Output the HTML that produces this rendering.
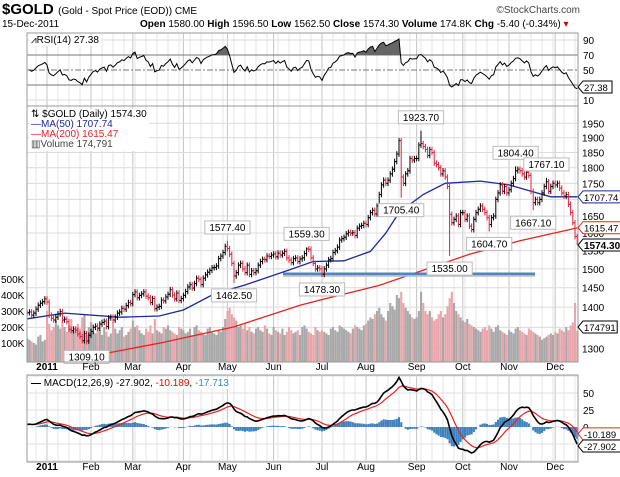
<!DOCTYPE html>
<html><head><meta charset="utf-8"><style>
body{margin:0;background:#fff;}
svg{display:block;font-family:"Liberation Sans",sans-serif;}
</style></head><body>
<svg id="c" width="620" height="477" xmlns="http://www.w3.org/2000/svg"></svg>
<script>
// ---- data ----
const pre=[1386,1388,1380,1385,1395,1405,1410,1414,1421];
const jan=[1413,1380,1372,1368,1375,1383,1389,1368,1370,1364,1345,1342,1346,1343,1334,1328,1318,1335,1317,1331];
const feb=[1340,1350,1353,1348,1358,1362,1365,1352,1373,1375,1368,1375,1385,1388,1397,1395,1404,1412,1409];
const mar=[1432,1439,1424,1430,1434,1439,1428,1424,1412,1422,1396,1400,1402,1418,1416,1426,1433,1445,1431,1421,1436,1417,1422];
const apr=[1430,1440,1452,1458,1449,1461,1475,1472,1458,1475,1484,1491,1496,1503,1504,1508,1528,1535,1545,1562];
const may=[1556,1540,1515,1481,1490,1510,1515,1500,1490,1510,1485,1495,1490,1495,1510,1520,1526,1525,1535,1534,1538];
const jun=[1541,1533,1543,1538,1543,1548,1530,1524,1517,1528,1530,1520,1527,1530,1542,1555,1554,1530,1515,1500,1503,1500];
const jul=[1485,1500,1510,1525,1528,1545,1550,1560,1580,1584,1588,1598,1602,1600,1601,1593,1614,1620,1622,1628];
const aug=[1625,1645,1660,1667,1656,1680,1715,1745,1760,1750,1760,1780,1795,1820,1845,1890,1770,1750,1780,1790,1830,1825,1830];
const sep=[1830,1875,1880,1870,1860,1840,1860,1850,1815,1810,1800,1780,1790,1770,1740,1655,1630,1640,1650,1625,1660];
const oct=[1660,1640,1650,1620,1610,1640,1660,1670,1680,1670,1660,1645,1625,1645,1650,1700,1720,1745,1725,1740,1720];
const nov=[1730,1750,1765,1790,1795,1790,1780,1770,1785,1775,1725,1690,1700,1690,1700,1720,1740,1755,1725,1740,1750];
const dec=[1745,1750,1735,1720,1710,1715,1685,1660,1630,1590,1574.3];
const closes=[].concat(pre,jan,feb,mar,apr,may,jun,jul,aug,sep,oct,nov,dec);
const volumes=[130,120,110,100,90,140,150,110,120,
300,220,180,200,240,210,190,230,200,170,210,250,180,200,220,190,260,280,150,200,
230,170,160,190,180,150,200,170,140,160,230,190,160,180,200,140,150,170,190,
240,200,210,180,160,150,190,170,210,160,250,180,170,160,200,190,210,180,170,160,150,200,190,
180,160,170,190,150,200,210,180,170,160,150,190,200,170,160,150,180,170,200,250,
300,320,280,260,240,200,210,190,220,180,200,170,160,190,200,180,170,210,190,160,150,
200,180,170,160,190,150,170,200,180,160,170,180,150,200,210,190,170,160,150,200,180,170,
180,170,160,150,190,200,180,170,210,200,190,180,170,160,190,210,200,190,180,210,
220,240,260,250,280,300,320,280,260,240,300,350,330,310,400,380,420,350,320,300,280,260,250,
260,300,420,350,300,280,300,260,240,250,280,300,260,280,330,380,420,350,300,280,260,
240,230,250,220,210,200,190,180,170,190,200,180,210,190,170,200,210,180,170,160,150,
180,170,160,190,200,180,170,160,150,190,180,170,160,150,140,120,130,140,150,160,150,
170,160,190,180,170,200,180,210,230,350,175];
const ma50Idx=[0,17,42,60,71,85,99,119,130,144,156,163,169,180,190,206,219,229,238,250];
const ma50Val=[1371,1385,1375,1378,1393,1434,1457,1497,1520,1522,1548,1600,1660,1715,1750,1757,1745,1725,1708,1708];
const ma200Idx=[19,60,94,124,133,160,176,201,224,250];
const ma200Val=[1272,1312,1351,1405,1418,1456,1488,1540,1578,1615];
const annIdx=[27,91,94,127,134,170,179,192,210,222,230,236];
const annVal=[1309.10,1577.40,1462.50,1559.30,1478.30,1705.40,1923.70,1535.00,1604.70,1804.40,1667.10,1767.10];
const annHigh=[0,1,0,1,0,0,1,0,0,1,0,1];
const priceTicks=[1300,1350,1400,1450,1500,1550,1600,1650,1700,1750,1800,1850,1900,1950];
const volTicks=[100,200,300,400,500];
const rsiTicks=[10,30,50,70,90];
const macdTicks=[0,25,50];
const months=["2011","Feb","Mar","Apr","May","Jun","Jul","Aug","Sep","Oct","Nov","Dec"];
const monthStart=[9,29,48,71,91,112,134,154,177,198,219,240];

// ---- scales ----
const L=27,R=578;
const X=i=>47+(i-9)*2.2;
const PY=p=>348.3-555*Math.log(p/1300);
const VY=v=>359-v*0.16;
const RY=r=>85-(r-30)*0.75;
const MY=m=>427-m*0.68;
const svg=document.getElementById('c');
const NS="http://www.w3.org/2000/svg";
function el(tag,attrs,parent){const e=document.createElementNS(NS,tag);for(const k in attrs)e.setAttribute(k,attrs[k]);(parent||svg).appendChild(e);return e;}
function txt(s,x,y,attrs,parent){const t=el('text',Object.assign({x:x,y:y,'font-size':10,fill:'#000'},attrs||{}),parent);t.textContent=s;return t;}

const defs=el('defs',{});
[['cr',33,106],['cm',106,362],['cd',375,462]].forEach(c=>{const cp=el('clipPath',{id:c[0]},defs);el('rect',{x:L,y:c[1],width:R-L,height:c[2]-c[1]},cp);});

function panel(name,y0,y1){
  const g=el('g',{});
  
  
  for(let i=4;i<closes.length;i+=5){el('line',{x1:X(i),x2:X(i),y1:y0,y2:y1,stroke:'#e6e6e6','stroke-width':1},g);}
  monthStart.forEach(i=>el('line',{x1:X(i),x2:X(i),y1:y0,y2:y1,stroke:'#c4c4c4','stroke-width':1},g));
  return g;
}
const gr=panel('rsi-panel',33,106);
const gm=panel('price-panel',106,362);
const gd=panel('macd-panel',375,462);
priceTicks.forEach(p=>{el('line',{x1:L,x2:R,y1:PY(p),y2:PY(p),stroke:'#dcdcdc'},gm);const t=txt(p,582,PY(p)+4,{'font-size':10},gm);});
volTicks.forEach(v=>{const t=txt(v+'K',1,VY(v)+4,{'font-size':10},gm);});
rsiTicks.forEach(r=>{
  const st=r==30||r==70||r==50?'#777':'#dcdcdc';
  el('line',{x1:L,x2:R,y1:RY(r),y2:RY(r),stroke:st,'stroke-dasharray':r==50?'6,2,2,2':'none'},gr);
  if(r!=30){const t=txt(r,583,RY(r)+4,{},gr);}
});
[-50,-25,25,50,75].forEach(m=>el('line',{x1:L,x2:R,y1:MY(m),y2:MY(m),stroke:'#e0e0e0'},gd));
macdTicks.forEach(m=>{const t=txt(m,583,MY(m)+4,{},gd);});

const gv=el('g',{'clip-path':'url(#cm)'});


volumes.forEach((v,i)=>{
  const down=i>0&&closes[i]<closes[i-1];
  const r=el('rect',{x:X(i)-1,y:VY(v),width:2.1,height:Math.max(0,359-VY(v)+3),fill:down?'#e8a6ac':'#a8a8a8'},gv);
  
  
});

function maPath(idx,val,color,name){
  let d='';idx.forEach((i,k)=>{d+=(k?'L':'M')+X(i).toFixed(1)+','+PY(val[k]).toFixed(1);});
  const p=el('path',{d:d,fill:'none',stroke:color,'stroke-width':1.3,'clip-path':'url(#cm)'});
  
  
}
maPath(ma200Idx,ma200Val,'#ee2020','ma200-line');
maPath(ma50Idx,ma50Val,'#1c2a9c','ma50-line');

el('line',{x1:283,x2:535,y1:PY(1487)+1,y2:PY(1487)+1,stroke:'#bbb','stroke-width':4});
const sup2=el('line',{x1:283,x2:535,y1:PY(1487),y2:PY(1487),stroke:'#4d86c6','stroke-width':2.5});



const hi=[],lo=[];
closes.forEach((c,i)=>{const o=i?closes[i-1]:c;hi.push(Math.max(o,c)+c*0.005);lo.push(Math.min(o,c)-c*0.005);});
annIdx.forEach((i,k)=>{if(annHigh[k])hi[i]=annVal[k];else lo[i]=annVal[k];});
const gb=el('g',{'clip-path':'url(#cm)'});


closes.forEach((c,i)=>{
  const o=i?closes[i-1]:c;const x=X(i);const col=c<o?'#e0203c':'#000';
  const g=el('g',{stroke:col,'stroke-width':1},gb);
  
  
  el('line',{x1:x,x2:x,y1:PY(hi[i]),y2:PY(lo[i])},g);
  el('line',{x1:x-1.5,x2:x,y1:PY(o),y2:PY(o)},g);
  el('line',{x1:x,x2:x+1.5,y1:PY(c),y2:PY(c)},g);
});

annIdx.forEach((i,k)=>{
  const x=X(i),s=annVal[k].toFixed(2);const w=s.length*5.6+6;
  const y=annHigh[k]?PY(annVal[k])-20:PY(annVal[k])+6;
  const g=el('g',{});
  
  
  el('rect',{x:x-w/2,y:y,width:w,height:13,fill:'#fff',stroke:'#bbb'},g);
  txt(s,x,y+10,{'text-anchor':'middle','font-size':10},g);
});

// RSI (Wilder), seeded neutral
const rsi=[];let ag=7,al=7;
for(let i=1;i<closes.length;i++){const d=closes[i]-closes[i-1];const gn=Math.max(d,0),ls=Math.max(-d,0);
  ag=(ag*13+gn)/14;al=(al*13+ls)/14;
  rsi.push([i,al==0?100:100-100/(1+ag/al)]);}
let rd='';rsi.forEach((p,k)=>{rd+=(k?'L':'M')+X(p[0]).toFixed(1)+','+RY(p[1]).toFixed(1);});
const rfill=el('clipPath',{id:'r70'},defs);el('rect',{x:L,y:33,width:R-L,height:RY(70)-33},rfill);
el('path',{d:rd+'L'+X(closes.length-1)+','+RY(70)+'L'+X(1)+','+RY(70)+'Z',fill:'#666','clip-path':'url(#r70)'});
const rl=el('path',{d:rd,fill:'none',stroke:'#000','stroke-width':1,'clip-path':'url(#cr)'});



function ema(arr,n){const k=2/(n+1);const out=[];arr.forEach((v,i)=>out.push(i?v*k+out[i-1]*(1-k):v));return out;}
const e12=ema(closes,12),e26=ema(closes,26);
const macd=closes.map((c,i)=>e12[i]-e26[i]+4);
const sig=ema(macd,9);
const gh=el('g',{'clip-path':'url(#cd)'});


macd.forEach((m,i)=>{const h=m-sig[i];const y0=MY(0),y1=MY(h);
  const r=el('rect',{x:X(i)-1,y:Math.min(y0,y1),width:2.1,height:Math.abs(y1-y0),fill:'#3f80bf'},gh);
  
  });
function line(arr,col,name,w){let d='';arr.forEach((v,i)=>{d+=(i?'L':'M')+X(i).toFixed(1)+','+MY(v).toFixed(1);});
  const p=el('path',{d:d,fill:'none',stroke:col,'stroke-width':w,'clip-path':'url(#cd)'});
  
  }
line(sig,'#ee2020','macd-signal-line',1.2);
line(macd,'#000','macd-line',1.6);

[[33,106],[106,362],[375,462]].forEach(b=>el('rect',{x:L,y:b[0],width:R-L,height:b[1]-b[0],fill:'none',stroke:'#999'}));

[370,470].forEach(y=>months.forEach((m,k)=>{const t=txt(m,X(monthStart[k]),y,{'text-anchor':'middle','font-size':10,'font-weight':k==0?'bold':'normal'});
  
  }));

function tag(s,y,col,bold,name){const g=el('g',{});
  
  
  const w=s.length*5.2+3;
  el('path',{d:`M578,${y} l5,-6 h${w} v12 h-${w} z`,fill:'#fff',stroke:col},g);
  txt(s,584,y+4,{'font-size':bold?10:9.5,'font-weight':bold?'bold':'normal'},g);}
tag('27.38',RY(27.38),'#000',0,'rsi-value-tag');
tag('1707.74',PY(1707.74),'#1c2a9c',0,'ma50-value-tag');
tag('1615.47',PY(1615.47),'#ee2020',0,'ma200-value-tag');
tag('1574.30',PY(1574.3)+3,'#000',1,'close-value-tag');
tag('174791',VY(174.8)-4,'#000',0,'volume-value-tag');
tag('-10.189',MY(-10.189),'#ee2020',0,'macd-signal-tag');
tag('-27.902',MY(-27.902),'#000',0,'macd-value-tag');
</script>
<div style="position:absolute;left:0;top:0;width:620px;font-family:'Liberation Sans',sans-serif;">
<div style="position:absolute;left:2px;top:1px;white-space:nowrap;"><b style="font-size:15px;">$GOLD</b> <span style="font-size:10px;">(Gold - Spot Price (EOD)) CME</span></div>
<div style="position:absolute;right:40px;top:5px;font-size:10px;color:#444;">©StockCharts.com</div>
<div style="position:absolute;left:2px;top:19px;font-size:10px;">15-Dec-2011</div>
<div style="position:absolute;left:140px;top:19px;font-size:10px;white-space:nowrap;"><b>Open</b> 1580.00 <b>High</b> 1596.50 <b>Low</b> 1562.50 <b>Close</b> 1574.30 <b>Volume</b> 174.8K <b>Chg</b> -5.40 (-0.34%) <span style="color:#d00">▾</span></div>
<div style="position:absolute;left:29px;top:35px;font-size:10px;background:#fff;padding:0 2px;">⩘RSI(14) 27.38</div>
<div style="position:absolute;left:29px;top:109px;font-size:10px;line-height:10px;background:#fff;padding:1px 2px;">
<div>⇅ $GOLD (Daily) 1574.30</div>
<div style="color:#1c2a9c">—MA(50) 1707.74</div>
<div style="color:#ee2020">—MA(200) 1615.47</div>
<div style="color:#444">▥Volume 174,791</div></div>
<div style="position:absolute;left:29px;top:378px;font-size:10px;background:#fff;padding:0 2px;white-space:nowrap;"><b>—</b> MACD(12,26,9) -27.902, <span style="color:#e00">-10.189</span>, <span style="color:#3f80bf">-17.713</span></div>
</div>
</body></html>
